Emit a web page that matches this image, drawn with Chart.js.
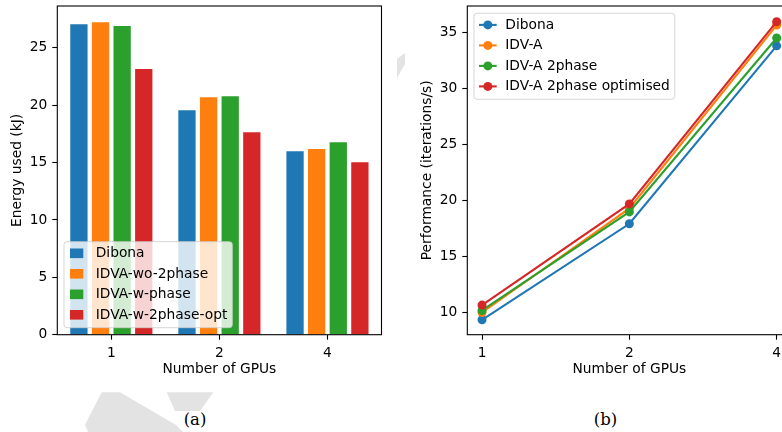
<!DOCTYPE html>
<html><head><meta charset="utf-8">
<script src="https://cdn.jsdelivr.net/npm/chart.js@4/dist/chart.umd.min.js"></script>
<style>
html,body{margin:0;padding:0;background:#fff;width:782px;height:432px;overflow:hidden;position:relative}
#wm{position:absolute;left:0;top:0}
.box{position:absolute;top:0;width:400px;height:400px}
.cap{position:absolute;font-family:"DejaVu Serif",serif;font-size:16.5px;color:#000;transform:translate(-50%,-50%);white-space:nowrap}
</style></head><body>
<svg id="wm" width="782" height="432">
  <polygon points="85,425 101.7,392.3 120,392.3 176,425 183,432 88,432" fill="#e3e3e3"/>
  <polygon points="166.7,392.3 213.3,392.3 200,411 175,411" fill="#e3e3e3"/>
  <polygon points="397,59 405,53 405,64 397,78" fill="#e3e3e3"/>
</svg>
<div class="box" style="left:0"><canvas id="c1" width="400" height="400"></canvas></div>
<div class="box" style="left:400px"><canvas id="c2" width="400" height="400"></canvas></div>
<div class="cap" style="left:195px;top:419px">(a)</div>
<div class="cap" style="left:605.5px;top:418.5px">(b)</div>
<script>
// ---------- data ----------
const gpuCategories = ['1', '2', '4'];

const energySeriesNames = ['Dibona', 'IDVA-wo-2phase', 'IDVA-w-phase', 'IDVA-w-2phase-opt'];
const energyDibona     = [27.07, 19.57, 16.00];
const energyWo2phase   = [27.24, 20.70, 16.18];
const energyWPhase     = [26.90, 20.78, 16.78];
const energyW2phaseOpt = [23.15, 17.65, 15.04];
const energyTicks = [0, 5, 10, 15, 20, 25];

const perfSeriesNames = ['Dibona', 'IDV-A', 'IDV-A 2phase', 'IDV-A 2phase optimised'];
const perfDibona      = [9.37, 17.93, 33.80];
const perfIdva        = [10.02, 19.30, 35.65];
const perfIdva2phase  = [10.20, 18.99, 34.50];
const perfIdva2phaseOpt = [10.68, 19.70, 35.95];
const perfTicks = [10, 15, 20, 25, 30, 35];

const colors = ['#1f77b4', '#ff7f0e', '#2ca02c', '#d62728'];

// ---------- styling ----------
const FS = 13.8;
const FONT = {family: '"DejaVu Sans"', size: FS};
Chart.defaults.font.family = '"DejaVu Sans"';
Chart.defaults.font.size = FS;
Chart.defaults.color = '#000';

function roundRect(ctx, x, y, w, h, r) {
  ctx.beginPath();
  ctx.moveTo(x + r, y);
  ctx.lineTo(x + w - r, y); ctx.arcTo(x + w, y, x + w, y + r, r);
  ctx.lineTo(x + w, y + h - r); ctx.arcTo(x + w, y + h, x + w - r, y + h, r);
  ctx.lineTo(x + r, y + h); ctx.arcTo(x, y + h, x, y + h - r, r);
  ctx.lineTo(x, y + r); ctx.arcTo(x, y, x + r, y, r);
  ctx.closePath();
}

const framePlugin = {
  id: 'frameLegend',
  afterDatasetsDraw(chart, args, opts) {
    const ctx = chart.ctx, a = chart.chartArea;
    ctx.save();
    ctx.strokeStyle = '#000';
    ctx.lineWidth = 1.1;
    ctx.strokeRect(a.left, a.top, a.right - a.left, a.bottom - a.top);
    // legend
    const items = chart.data.datasets.map(d => ({label: d.label, color: d.backgroundColor}));
    ctx.font = FS + 'px "DejaVu Sans"';
    const maxW = Math.max(...items.map(i => ctx.measureText(i.label).width));
    const w = opts.textX - 6.7 + maxW + 5;
    const h = 86;
    const x = a.left + 6.7;
    const y = opts.anchor === 'bottom' ? a.bottom - 7 - h : a.top + 7.3;
    roundRect(ctx, x, y, w, h, 3);
    ctx.fillStyle = 'rgba(255,255,255,0.8)';
    ctx.fill();
    ctx.strokeStyle = 'rgba(204,204,204,0.8)';
    ctx.lineWidth = 1;
    ctx.stroke();
    items.forEach((it, i) => {
      const cy = y + 11.6 + i * 20.5;
      if (opts.kind === 'patch') {
        ctx.fillStyle = it.color;
        ctx.fillRect(a.left + 12.7, cy - 4.8, 13.3, 9.6);
      } else {
        ctx.strokeStyle = it.color;
        ctx.lineWidth = 2.1;
        ctx.beginPath();
        ctx.moveTo(a.left + 11.7, cy); ctx.lineTo(a.left + 29.4, cy);
        ctx.stroke();
        ctx.fillStyle = it.color;
        ctx.beginPath();
        ctx.arc(a.left + 20.55, cy, 4.5, 0, Math.PI * 2);
        ctx.fill();
      }
      ctx.fillStyle = '#000';
      ctx.textBaseline = 'middle';
      ctx.textAlign = 'left';
      ctx.fillText(it.label, a.left + opts.textX, cy + 0.5);
    });
    ctx.restore();
  }
};

const tickGrid = {display: true, drawOnChartArea: false, offset: false, tickLength: 5, tickWidth: 1.1, tickColor: '#000', color: '#000'};

// ---------- chart (a) ----------
const energyValues = [energyDibona, energyWo2phase, energyWPhase, energyW2phaseOpt];
new Chart(document.getElementById('c1'), {
  type: 'bar',
  data: {
    labels: gpuCategories,
    datasets: energySeriesNames.map((n, i) => ({
      label: n, data: energyValues[i], backgroundColor: colors[i], borderWidth: 0,
      categoryPercentage: 0.8, barPercentage: 0.8
    }))
  },
  options: {
    responsive: false, animation: false, devicePixelRatio: 1,
    layout: {padding: {left: 0, top: 6, right: 18.5, bottom: 0}},
    plugins: {legend: {display: false}, tooltip: {enabled: false}, frameLegend: {anchor: 'bottom', kind: 'patch', textX: 38.4}},
    scales: {
      x: {
        type: 'category', grid: tickGrid, border: {display: false},
        ticks: {color: '#000', padding: 5, font: FONT, maxRotation: 0},
        title: {display: true, text: 'Number of GPUs', color: '#000', font: FONT, padding: {top: 0, bottom: 22.4}},
        afterFit(s) { s.height = 65.3; s.paddingLeft = 0; s.paddingRight = 0; }
      },
      y: {
        min: 0, max: 28.65,
        afterBuildTicks(s) { s.ticks = energyTicks.map(v => ({value: v})); },
        grid: tickGrid, border: {display: false},
        ticks: {color: '#000', padding: 5, font: FONT},
        title: {display: true, text: 'Energy used (kJ)', color: '#000', font: FONT, padding: {top: 9.2, bottom: 0}},
        afterFit(s) { s.width = 57.3; s.paddingTop = 0; s.paddingBottom = 0; }
      }
    }
  },
  plugins: [framePlugin]
});

// ---------- chart (b) ----------
const perfValues = [perfDibona, perfIdva, perfIdva2phase, perfIdva2phaseOpt];
new Chart(document.getElementById('c2'), {
  type: 'line',
  data: {
    datasets: perfSeriesNames.map((n, i) => ({
      label: n,
      data: gpuCategories.map((c, k) => ({x: k, y: perfValues[i][k]})),
      borderColor: colors[i], backgroundColor: colors[i],
      borderWidth: 2.1, pointRadius: 4.5, pointBorderWidth: 0, pointBackgroundColor: colors[i],
      tension: 0, fill: false, order: 3 - i
    }))
  },
  options: {
    responsive: false, animation: false, devicePixelRatio: 1,
    layout: {padding: {left: 0, top: 6, right: 8.6, bottom: 0}},
    plugins: {legend: {display: false}, tooltip: {enabled: false}, frameLegend: {anchor: 'top', kind: 'line', textX: 38}},
    scales: {
      x: {
        type: 'linear', min: -0.1, max: 2.1,
        afterBuildTicks(s) { s.ticks = gpuCategories.map((c, k) => ({value: k})); },
        grid: tickGrid, border: {display: false},
        ticks: {color: '#000', padding: 5, font: FONT, maxRotation: 0, callback: (v) => gpuCategories[v]},
        title: {display: true, text: 'Number of GPUs', color: '#000', font: FONT, padding: {top: 0, bottom: 22.4}},
        afterFit(s) { s.height = 65.3; s.paddingLeft = 0; s.paddingRight = 0; }
      },
      y: {
        min: 8.04, max: 37.35,
        afterBuildTicks(s) { s.ticks = perfTicks.map(v => ({value: v})); },
        grid: tickGrid, border: {display: false},
        ticks: {color: '#000', padding: 5, font: FONT},
        title: {display: true, text: 'Performance (iterations/s)', color: '#000', font: FONT, padding: {top: 18.7, bottom: 0}},
        afterFit(s) { s.width = 67.3; s.paddingTop = 0; s.paddingBottom = 0; }
      }
    }
  },
  plugins: [framePlugin]
});
</script>
</body></html>
